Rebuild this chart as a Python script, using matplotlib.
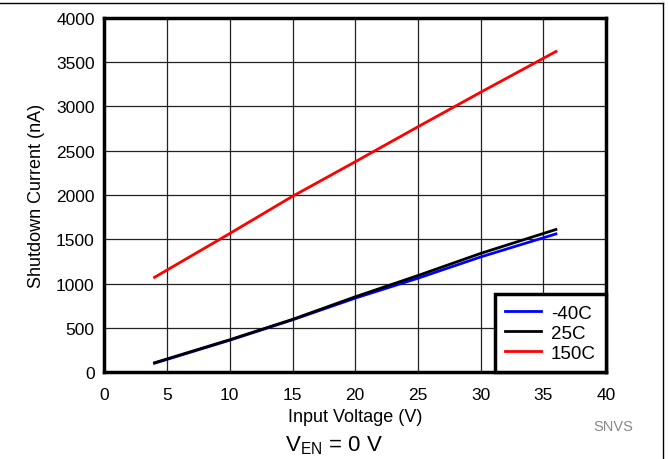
import matplotlib
matplotlib.use("Agg")
import matplotlib.pyplot as plt
from matplotlib.lines import Line2D

plt.rcParams["font.family"] = ["Liberation Sans", "DejaVu Sans"]

# input voltage (V)
vin = [4, 10, 15, 20, 25, 30, 36]
# shutdown current (nA)
i_m40 = [100, 360, 590, 835, 1060, 1300, 1560]
i_25 = [105, 365, 595, 850, 1090, 1340, 1610]
i_150 = [1070, 1565, 1985, 2375, 2770, 3160, 3620]

labels = ["-40C", "25C", "150C"]
colors = ["#0000ff", "#000000", "#ff0000"]

fig = plt.figure(figsize=(6.69, 4.60), dpi=100)
ax = fig.add_axes([0.156, 0.189, 0.750, 0.770])

ax.plot(vin, i_m40, color=colors[0], lw=2, label=labels[0])
ax.plot(vin, i_25, color=colors[1], lw=2, label=labels[1])
ax.plot(vin, i_150, color=colors[2], lw=2, label=labels[2])

ax.set_xlim(0, 40)
ax.set_ylim(0, 4000)
ax.set_xticks(range(0, 41, 5))
ax.set_yticks(range(0, 4001, 500))
ax.grid(True, color="#222222", lw=0.9)
ax.tick_params(length=0, labelsize=12.5)
ax.tick_params(axis="x", pad=11)
ax.tick_params(axis="y", pad=7)
for s in ax.spines.values():
    s.set_linewidth(2.5)

ax.set_xlabel("Input Voltage (V)", fontsize=13, labelpad=4)
ax.set_ylabel("Shutdown Current (nA)", fontsize=13, labelpad=8)

leg = ax.legend(loc="lower right", fontsize=13.5, fancybox=False, framealpha=1,
                edgecolor="black", borderaxespad=0, handlelength=1.9,
                handletextpad=0.55, labelspacing=0.15, borderpad=0.55)
leg.get_frame().set_linewidth(2.5)

fig.text(0.426, 0.018, "V$_{\\mathregular{EN}}$ = 0 V", fontsize=16)
fig.text(0.887, 0.072, "SNVS", fontsize=10.5, color="#888888", va="center")

# outer frame lines (top and right only)
fig.add_artist(Line2D([0, 0.991], [0.991, 0.991], color="black", lw=1,
                      transform=fig.transFigure))
fig.add_artist(Line2D([0.991, 0.991], [0, 0.991], color="black", lw=1,
                      transform=fig.transFigure))

fig.savefig("out.png", dpi=100)
